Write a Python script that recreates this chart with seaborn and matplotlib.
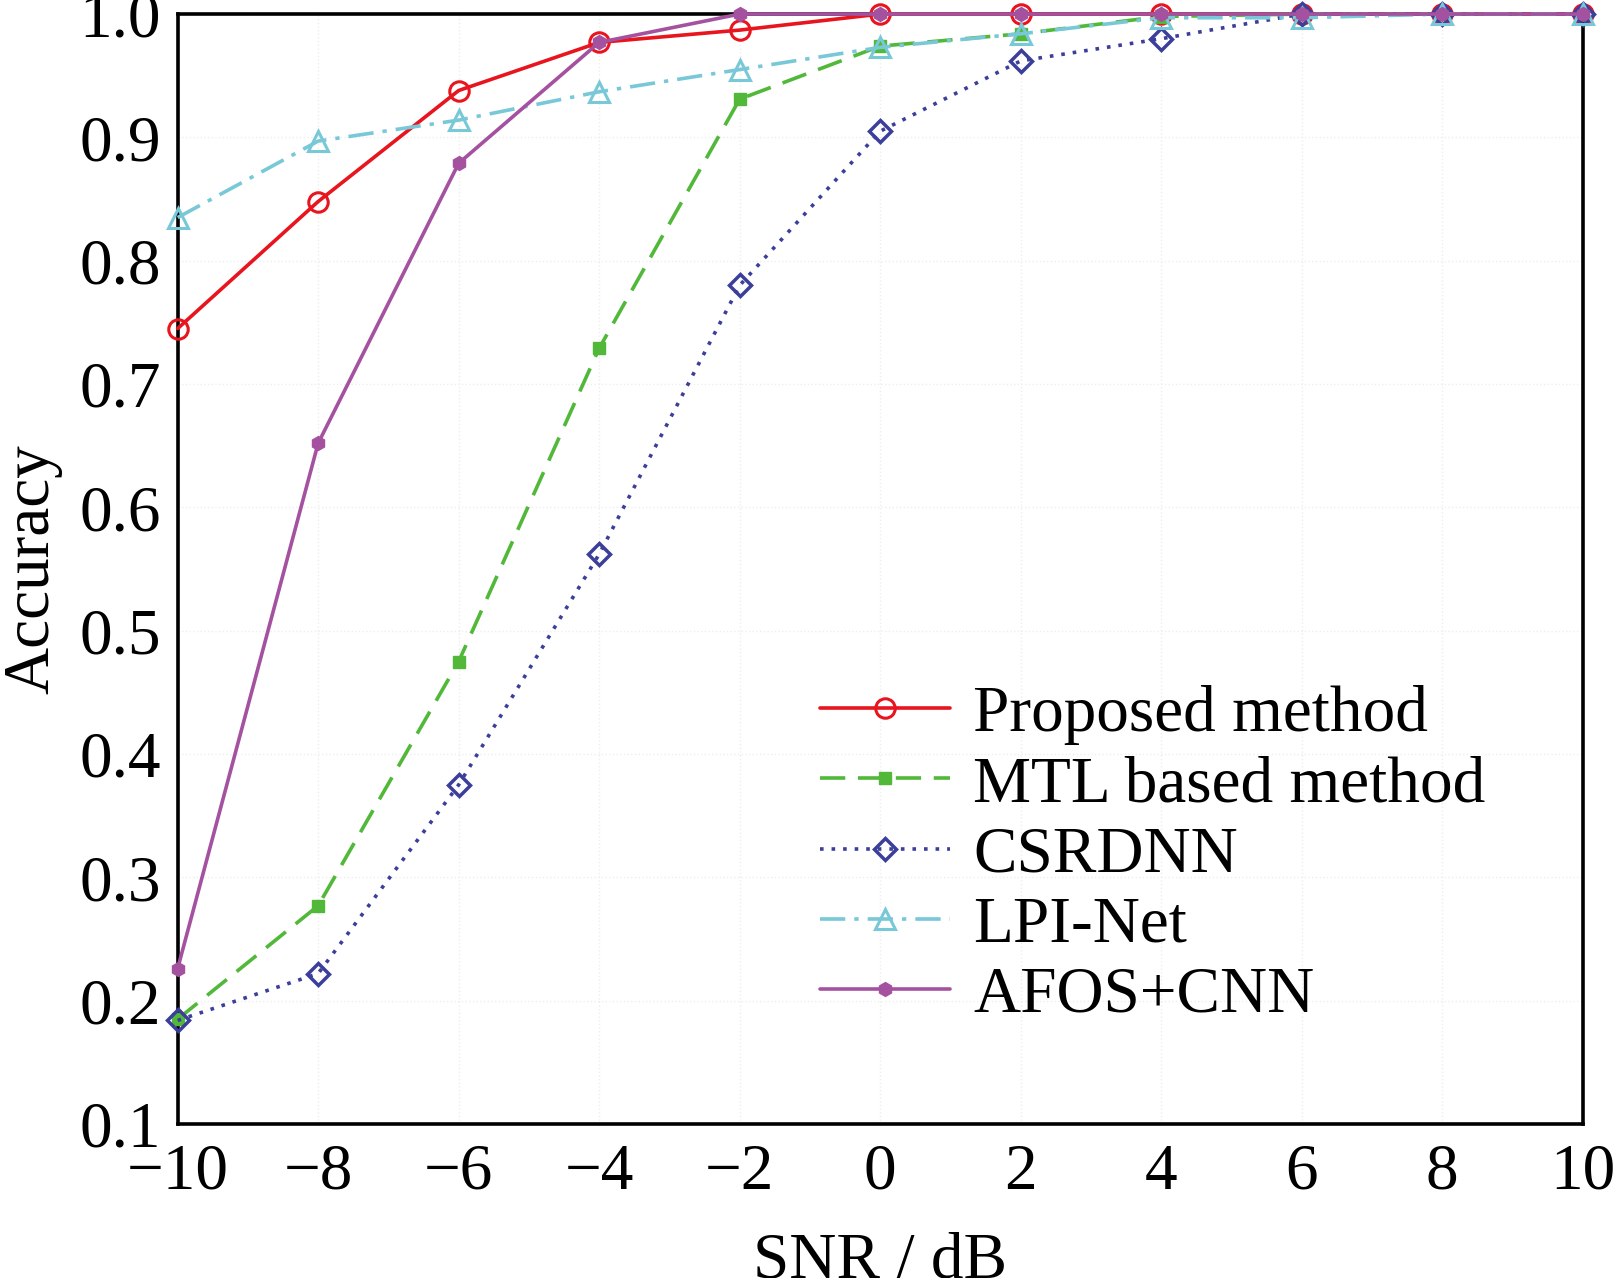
import pandas as pd
import matplotlib
matplotlib.use("Agg")
import matplotlib.pyplot as plt
import seaborn as sns

# SNR values (dB) and accuracies
snr = [-10, -8, -6, -4, -2, 0, 2, 4, 6, 8, 10]
proposed = [0.745, 0.848, 0.938, 0.977, 0.987, 1.0, 1.0, 1.0, 1.0, 1.0, 1.0]
mtl = [0.185, 0.277, 0.475, 0.729, 0.931, 0.974, 0.984, 0.998, 1.0, 1.0, 1.0]
csrdnn = [0.184, 0.222, 0.375, 0.562, 0.780, 0.905, 0.962, 0.980, 1.0, 1.0, 1.0]
lpinet = [0.835, 0.897, 0.914, 0.937, 0.955, 0.973, 0.984, 0.997, 0.997, 1.0, 1.0]
afos = [0.226, 0.652, 0.879, 0.977, 1.0, 1.0, 1.0, 1.0, 1.0, 1.0, 1.0]

labels = ["Proposed method", "MTL based method", "CSRDNN", "LPI-Net", "AFOS+CNN"]
x_ticks = [-10, -8, -6, -4, -2, 0, 2, 4, 6, 8, 10]
y_ticks = [0.1, 0.2, 0.3, 0.4, 0.5, 0.6, 0.7, 0.8, 0.9, 1.0]

sns.set_style("white")
plt.rcParams["font.family"] = ["Liberation Serif", "DejaVu Serif"]
plt.rcParams["mathtext.fontset"] = "stix"
for key in ["text.color", "axes.labelcolor", "xtick.color", "ytick.color"]:
    plt.rcParams[key] = "black"

fig = plt.figure(figsize=(16.15, 12.78), dpi=100)
ax = fig.add_axes([0.110, 0.1205, 0.870, 0.8685])

colors = ["#e8141e", "#52b83a", "#3b3f9a", "#78c8d8", "#a452a0"]
dashes = ["-", (0, (7, 3.5)), (0, (1, 2.2)), (0, (7, 2.5, 1.2, 2.5)), "-"]
marks = [
    dict(marker="o", mfc="none", ms=14, mew=2.2),
    dict(marker="s", mfc=colors[1], ms=9, mew=1),
    dict(marker="D", mfc="none", ms=11, mew=2.5),
    dict(marker="^", mfc="none", ms=15, mew=2.2),
    dict(marker="h", mfc=colors[4], ms=10, mew=1),
]
series = [proposed, mtl, csrdnn, lpinet, afos]

for vals, lab, col, ls in zip(series, labels, colors, dashes):
    df = pd.DataFrame({"snr": snr, "acc": vals})
    sns.lineplot(data=df, x="snr", y="acc", ax=ax, label=lab, color=col,
                 lw=2.6, linestyle=ls, clip_on=False, zorder=5)

# seaborn restyles markers, so set them on the finished lines
for line, col, mk in zip(ax.lines, colors, marks):
    line.set_marker(mk["marker"])
    line.set_markersize(mk["ms"])
    line.set_markeredgewidth(mk["mew"])
    line.set_markeredgecolor(col)
    line.set_markerfacecolor(mk["mfc"])

ax.set_xlim(-10, 10)
ax.set_ylim(0.1, 1.0)
ax.set_xticks(x_ticks)
ax.set_yticks(y_ticks)
ax.set_yticklabels([f"{v:.1f}" for v in y_ticks])
ax.tick_params(direction="in", length=13, width=2.4, labelsize=47, pad=14)
ax.tick_params(axis="y", pad=12)
for sp in ax.spines.values():
    sp.set_linewidth(2.6)
    sp.set_color("black")
ax.grid(True, color="#eeeeee", linestyle=":", linewidth=1)

ax.set_xlabel("SNR / dB", fontsize=47, labelpad=21)
ax.set_ylabel("Accuracy", fontsize=47, labelpad=12)

ax.legend(loc="center left", bbox_to_anchor=(0.457, 0.242), frameon=False,
          fontsize=47, handlelength=2.0, handletextpad=0.35, labelspacing=0.16,
          borderpad=0, borderaxespad=0)

fig.savefig("out.png", dpi=100)
